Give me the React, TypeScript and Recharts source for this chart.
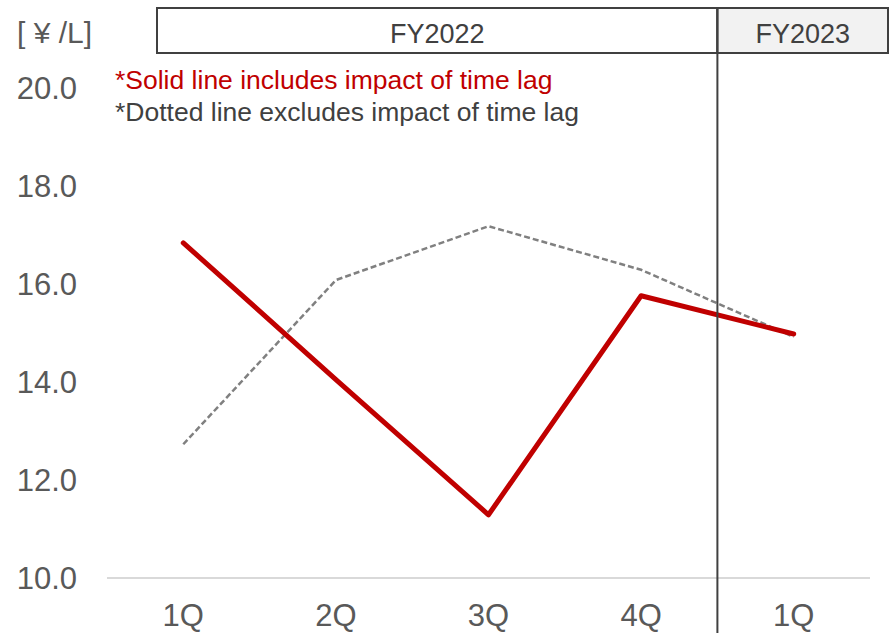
import React from "react";
import { LineChart, Line, XAxis, YAxis } from "recharts";

const quarters = ["1Q", "2Q", "3Q", "4Q", "1Q"];
// solid = incl. time lag, dotted = excl. time lag  [¥/L]
const withTimeLag = [16.84, 14.05, 11.29, 15.76, 14.98];
const withoutTimeLag = [12.73, 16.08, 17.18, 16.29, 14.92];
const yTicks = [10, 12, 14, 16, 18, 20];
const fiscalYears = ["FY2022", "FY2023"];
const notes = [
  "*Solid line includes impact of time lag",
  "*Dotted line excludes impact of time lag",
];

const W = 893;
const H = 633;
const FONT = '"Liberation Sans", Arial, sans-serif';

const chartData = quarters.map((q, i) => ({
  key: `${q}-${i}`,
  q,
  solid: withTimeLag[i],
  dotted: withoutTimeLag[i],
}));

// plot box
const plotLeft = 107;
const plotRight = 870;
const band = (plotRight - plotLeft) / quarters.length;
const dividerX = plotLeft + band * 4;

const App = () => {
  return (
    <div
      style={{
        position: "absolute",
        left: 0,
        top: 0,
        width: W,
        height: H,
        background: "#fff",
        fontFamily: FONT,
      }}
    >
      <LineChart
        width={W}
        height={H}
        data={chartData}
        margin={{ top: 88, right: W - plotRight, bottom: 25, left: 7 }}
      >
        <XAxis
          dataKey="key"
          tickFormatter={(_v, i) => quarters[i]}
          height={30}
          padding={{ left: band / 2, right: band / 2 }}
          axisLine={{ stroke: "#d9d9d9", strokeWidth: 2 }}
          tickLine={false}
          tickSize={0}
          tickMargin={26}
          tick={{ fill: "#595959", fontSize: 31, fontFamily: FONT }}
          interval={0}
        />
        <YAxis
          type="number"
          domain={[10, 20]}
          ticks={yTicks}
          tickFormatter={(v: number) => v.toFixed(1)}
          width={100}
          axisLine={false}
          tickLine={false}
          tickSize={0}
          tickMargin={30}
          tick={{ fill: "#595959", fontSize: 31, fontFamily: FONT }}
        />
        <Line
          dataKey="dotted"
          stroke="#808080"
          strokeWidth={2.5}
          strokeDasharray="6 3"
          dot={false}
          activeDot={false}
          isAnimationActive={false}
        />
        <Line
          dataKey="solid"
          stroke="#c00000"
          strokeWidth={5}
          strokeLinecap="round"
          strokeLinejoin="round"
          dot={false}
          activeDot={false}
          isAnimationActive={false}
        />
      </LineChart>

      {/* header boxes, divider and notes */}
      <svg
        width={W}
        height={H}
        style={{ position: "absolute", left: 0, top: 0, pointerEvents: "none" }}
      >
        <rect x={157} y={8} width={dividerX - 157} height={45} fill="none" stroke="#404040" strokeWidth={2} />
        <rect x={dividerX} y={8} width={888 - dividerX} height={45} fill="#f2f2f2" stroke="#404040" strokeWidth={2} />
        <line x1={dividerX} y1={8} x2={dividerX} y2={H} stroke="#404040" strokeWidth={2} />
        <text x={(157 + dividerX) / 2} y={43} textAnchor="middle" fontSize={27} fill="#404040" fontFamily={FONT}>
          {fiscalYears[0]}
        </text>
        <text x={(dividerX + 888) / 2} y={43} textAnchor="middle" fontSize={27} fill="#404040" fontFamily={FONT}>
          {fiscalYears[1]}
        </text>
        <text x={17} y={43} fontSize={30} fill="#595959" fontFamily={FONT}>
          [ ¥ /L]
        </text>
        <text x={115} y={89} fontSize={26.5} fill="#c00000" fontFamily={FONT}>
          {notes[0]}
        </text>
        <text x={115} y={121} fontSize={26.5} fill="#404040" fontFamily={FONT}>
          {notes[1]}
        </text>
      </svg>
    </div>
  );
};

export default App;
